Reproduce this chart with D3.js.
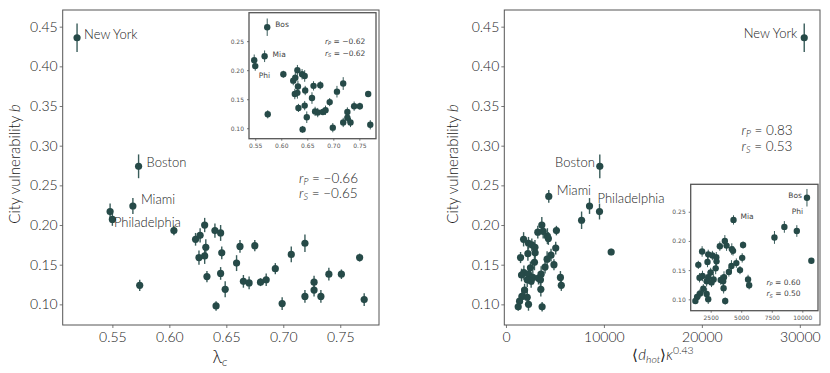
<!DOCTYPE html>
<html>
<head>
<meta charset="utf-8">
<script src="https://cdn.jsdelivr.net/npm/d3@7"></script>
<style>
  body { margin: 0; background: #fff; }
  text { font-family: Lato, "DejaVu Sans", sans-serif; font-weight: 300; }
</style>
</head>
<body>
<svg id="chart" width="830" height="373"></svg>
<script>
// first four entries of every series: New York, Boston, Miami, Philadelphia
const cityNames = ['New York', 'Boston', 'Miami', 'Philadelphia'];
const cityShort = ['NY', 'Bos', 'Mia', 'Phi'];

// left panel: lambda_c vs city vulnerability b
const lambdaC = [0.519, 0.573, 0.568, 0.550, 0.548, 0.574, 0.604, 0.623, 0.627, 0.631,
    0.640, 0.645, 0.632, 0.626, 0.631, 0.646, 0.633, 0.645, 0.641, 0.649,
    0.659, 0.662, 0.665, 0.670, 0.675, 0.680, 0.685, 0.693, 0.699, 0.707,
    0.719, 0.719, 0.727, 0.727, 0.733, 0.740, 0.751, 0.767, 0.771];
const bLeft = [0.436, 0.274, 0.224, 0.207, 0.217, 0.124, 0.193, 0.182, 0.187, 0.200,
    0.193, 0.190, 0.172, 0.159, 0.161, 0.165, 0.135, 0.139, 0.098, 0.119,
    0.152, 0.173, 0.129, 0.127, 0.174, 0.128, 0.131, 0.145, 0.101, 0.163,
    0.177, 0.110, 0.128, 0.118, 0.110, 0.138, 0.138, 0.159, 0.106];
const errLeft = [0.018, 0.015, 0.010, 0.008, 0.010, 0.007, 0.006, 0.008, 0.009, 0.009,
    0.009, 0.010, 0.010, 0.009, 0.010, 0.008, 0.007, 0.008, 0.006, 0.010,
    0.010, 0.008, 0.008, 0.008, 0.007, 0.005, 0.008, 0.007, 0.008, 0.010,
    0.011, 0.008, 0.008, 0.008, 0.008, 0.008, 0.006, 0.005, 0.008];

// right panel: <d_hot> kappa^0.43 vs city vulnerability b
const dhot = [30450, 9580, 4370, 9550, 8530, 7720, 10740, 3660, 3250, 3800,
    4330, 4230, 5150, 1800, 2300, 2640, 2960, 2240, 2980, 5080,
    4600, 1490, 2910, 4200, 4900, 3990, 2500, 1830, 1590, 2300,
    2740, 3590, 3320, 2170, 2570, 3520, 5560, 5650, 3560, 1900,
    1630, 2170, 1390, 2300, 1250, 3690];
const bRight = [0.436, 0.274, 0.236, 0.217, 0.224, 0.206, 0.166, 0.200, 0.191, 0.192,
    0.183, 0.186, 0.193, 0.182, 0.177, 0.175, 0.172, 0.164, 0.165, 0.171,
    0.162, 0.159, 0.153, 0.157, 0.150, 0.147, 0.146, 0.140, 0.137, 0.138,
    0.134, 0.138, 0.133, 0.131, 0.129, 0.131, 0.134, 0.124, 0.119, 0.118,
    0.110, 0.109, 0.104, 0.100, 0.097, 0.097];
const errRight = [0.018, 0.015, 0.008, 0.010, 0.010, 0.011, 0.004, 0.010, 0.008, 0.009,
    0.008, 0.010, 0.006, 0.009, 0.008, 0.008, 0.009, 0.009, 0.009, 0.008,
    0.008, 0.007, 0.010, 0.010, 0.007, 0.008, 0.008, 0.009, 0.008, 0.010,
    0.009, 0.010, 0.008, 0.009, 0.008, 0.008, 0.008, 0.007, 0.009, 0.008,
    0.008, 0.010, 0.008, 0.008, 0.005, 0.006];
const dhotInsetBoston = 10380;

const bTicks = [0.10, 0.15, 0.20, 0.25, 0.30, 0.35, 0.40, 0.45];
const lambdaTicks = [0.55, 0.60, 0.65, 0.70, 0.75];
const dhotTicks = [0, 10000, 20000, 30000];
const insetBTicks = [0.10, 0.15, 0.20, 0.25];
const insetDhotTicks = [2500, 5000, 7500, 10000];

const corrLeft = ['\u22120.66', '\u22120.65'];
const corrLeftInset = ['\u22120.62', '\u22120.62'];
const corrRight = ['0.83', '0.53'];
const corrRightInset = ['0.60', '0.50'];

const dotColor = '#264a48';
const frameColor = '#555';
const mainFont = 'Lato, "DejaVu Sans", sans-serif';
const insetFont = '"DejaVu Sans", sans-serif';

const svg = d3.select('#chart');

function drawPanel(cfg) {
    let x = d3.scaleLinear().domain(cfg.xDomain).range([cfg.left, cfg.right]);
    let y = d3.scaleLinear().domain(cfg.yDomain).range([cfg.bottom, cfg.top]);
    let font = cfg.inset ? insetFont : mainFont;
    let weight = cfg.inset ? 400 : 300;
    let g = svg.append('g');

    if (cfg.inset) {
        g.append('rect')
            .attr('x', cfg.left).attr('y', cfg.top)
            .attr('width', cfg.right - cfg.left).attr('height', cfg.bottom - cfg.top)
            .attr('fill', 'white');
    }

    let xAxis = g.append('g')
        .attr('transform', `translate(0, ${cfg.bottom})`)
        .call(d3.axisBottom(x).tickValues(cfg.xTicks).tickFormat(cfg.xFormat)
            .tickSize(cfg.tick).tickPadding(cfg.xPad));
    let yAxis = g.append('g')
        .attr('transform', `translate(${cfg.left}, 0)`)
        .call(d3.axisLeft(y).tickValues(cfg.yTicks).tickFormat(d3.format('.2f'))
            .tickSize(cfg.tick).tickPadding(cfg.yPad));
    [xAxis, yAxis].forEach(a => {
        a.select('.domain').remove();
        a.selectAll('line').attr('stroke', frameColor).attr('stroke-width', 0.8);
        a.selectAll('text')
            .attr('font-size', cfg.tickFont)
            .attr('fill', cfg.inset ? '#555' : '#1a1a1a')
            .style('font-family', font)
            .style('font-weight', weight);
    });

    g.append('rect')
        .attr('x', cfg.left).attr('y', cfg.top)
        .attr('width', cfg.right - cfg.left).attr('height', cfg.bottom - cfg.top)
        .attr('fill', 'none')
        .attr('stroke', frameColor)
        .attr('stroke-width', cfg.inset ? 1.3 : 1);

    let pts = cfg.xs.map((v, i) => ({ x: v, b: cfg.ys[i], e: cfg.errs[i] }));

    g.selectAll('line.err')
        .data(pts)
        .join('line')
        .attr('class', 'err')
        .attr('x1', d => x(d.x)).attr('x2', d => x(d.x))
        .attr('y1', d => y(d.b - d.e)).attr('y2', d => y(d.b + d.e))
        .attr('stroke', '#3a5d5b')
        .attr('stroke-width', cfg.inset ? 1 : 1.4);

    g.selectAll('circle')
        .data(pts)
        .join('circle')
        .attr('cx', d => x(d.x))
        .attr('cy', d => y(d.b))
        .attr('r', cfg.r)
        .attr('fill', dotColor);

    // city names next to their points
    cfg.labels.forEach(l => {
        let p = pts[l.i];
        g.append('text')
            .attr('x', x(p.x) + l.dx)
            .attr('y', y(p.b) + l.dy)
            .attr('text-anchor', l.anchor || 'start')
            .attr('font-size', cfg.labelFont)
            .attr('fill', cfg.inset ? '#444' : '#222')
            .style('font-family', font)
            .style('font-weight', weight)
            .text(l.text);
    });

    // correlation coefficients
    cfg.corr.forEach((c, k) => {
        let t = g.append('text')
            .attr('x', cfg.corrX)
            .attr('y', cfg.corrY + k * cfg.corrGap)
            .attr('font-size', cfg.corrFont)
            .attr('fill', cfg.inset ? '#444' : '#222')
            .style('font-family', font)
            .style('font-weight', weight);
        t.append('tspan').attr('font-style', 'italic').text('r');
        t.append('tspan').attr('font-style', 'italic').attr('font-size', '68%')
            .attr('dy', cfg.corrFont * 0.2).text(k === 0 ? 'P' : 'S');
        t.append('tspan').attr('dy', -cfg.corrFont * 0.2).text(' = ' + c);
    });
}

// left main
drawPanel({
    left: 62.7, right: 379, top: 10, bottom: 325,
    xDomain: [0.5064, 0.784], yDomain: [0.074, 0.471],
    xTicks: lambdaTicks, yTicks: bTicks, xFormat: d3.format('.2f'),
    tick: 3, xPad: 4, yPad: 2, tickFont: 14,
    xs: lambdaC, ys: bLeft, errs: errLeft, r: 3.6,
    labelFont: 13,
    labels: [
        { i: 0, text: cityNames[0], dx: 7, dy: 1 },
        { i: 1, text: cityNames[1], dx: 8, dy: 1 },
        { i: 2, text: cityNames[2], dx: 8, dy: -2 },
        { i: 3, text: cityNames[3], dx: 1.5, dy: 8 }
    ],
    corr: corrLeft, corrX: 299, corrY: 182.5, corrGap: 15, corrFont: 13.5
});

// left inset, New York left out
drawPanel({
    inset: true,
    left: 249, right: 376, top: 12.7, bottom: 138.7,
    xDomain: [0.538, 0.782], yDomain: [0.082, 0.299],
    xTicks: lambdaTicks, yTicks: insetBTicks, xFormat: d3.format('.2f'),
    tick: 2, xPad: 3, yPad: 3, tickFont: 6,
    xs: lambdaC.slice(1), ys: bLeft.slice(1), errs: errLeft.slice(1), r: 3.2,
    labelFont: 7.5,
    labels: [
        { i: 0, text: cityShort[1], dx: 8, dy: 0 },
        { i: 1, text: cityShort[2], dx: 8, dy: 0.5 },
        { i: 2, text: cityShort[3], dx: 3.5, dy: 12 }
    ],
    corr: corrLeftInset, corrX: 325, corrY: 43.5, corrGap: 12, corrFont: 7.5
});

// right main
drawPanel({
    left: 504.3, right: 820, top: 10, bottom: 325,
    xDomain: [-170, 32060], yDomain: [0.074, 0.471],
    xTicks: dhotTicks, yTicks: bTicks, xFormat: d3.format('d'),
    tick: 3, xPad: 4, yPad: 2, tickFont: 14,
    xs: dhot, ys: bRight, errs: errRight, r: 3.6,
    labelFont: 13,
    labels: [
        { i: 0, text: cityNames[0], dx: -7, dy: 0.5, anchor: 'end' },
        { i: 1, text: cityNames[1], dx: -5, dy: 1, anchor: 'end' },
        { i: 2, text: cityNames[2], dx: 8, dy: -1.5 },
        { i: 3, text: cityNames[3], dx: -2, dy: -8.5 }
    ],
    corr: corrRight, corrX: 741.5, corrY: 134.5, corrGap: 16, corrFont: 13.5
});

// right inset, New York left out
let insetDhot = dhot.slice(1);
insetDhot[0] = dhotInsetBoston;
drawPanel({
    inset: true,
    left: 690.7, right: 818, top: 184.3, bottom: 310.7,
    xDomain: [866, 11283], yDomain: [0.0805, 0.297],
    xTicks: insetDhotTicks, yTicks: insetBTicks, xFormat: d3.format('d'),
    tick: 2, xPad: 3, yPad: 3, tickFont: 6,
    xs: insetDhot, ys: bRight.slice(1), errs: errRight.slice(1), r: 3.2,
    labelFont: 7.5,
    labels: [
        { i: 0, text: cityShort[1], dx: -5, dy: 0, anchor: 'end' },
        { i: 1, text: cityShort[2], dx: 7, dy: -0.5 },
        { i: 2, text: cityShort[3], dx: -5, dy: -17.5 }
    ],
    corr: corrRightInset, corrX: 766.5, corrY: 284.5, corrGap: 11.5, corrFont: 7.5
});

// axis titles
[15, 453].forEach(cx => {
    let t = svg.append('text')
        .attr('transform', `translate(${cx}, 164) rotate(-90)`)
        .attr('text-anchor', 'middle')
        .attr('dy', '0.35em')
        .attr('font-size', 15)
        .attr('fill', '#1a1a1a');
    t.append('tspan').text('City vulnerability ');
    t.append('tspan').attr('font-style', 'italic').text('b');
});

let xl = svg.append('text')
    .attr('x', 220).attr('y', 363)
    .attr('text-anchor', 'middle')
    .attr('font-size', 18)
    .attr('fill', '#1a1a1a');
xl.append('tspan').text('\u03bb');
xl.append('tspan').attr('font-style', 'italic').attr('font-size', 12).attr('dy', 3).text('c');

let xr = svg.append('text')
    .attr('x', 663).attr('y', 360)
    .attr('text-anchor', 'middle')
    .attr('font-size', 15)
    .attr('fill', '#1a1a1a');
xr.append('tspan').text('\u27e8');
xr.append('tspan').attr('font-style', 'italic').text('d');
xr.append('tspan').attr('font-style', 'italic').attr('font-size', 10.5).attr('dy', 3).text('hot');
xr.append('tspan').attr('dy', -3).text('\u27e9');
xr.append('tspan').attr('font-style', 'italic').text('\u03ba');
xr.append('tspan').attr('font-size', 10.5).attr('dy', -6).text('0.43');
</script>
</body>
</html>
